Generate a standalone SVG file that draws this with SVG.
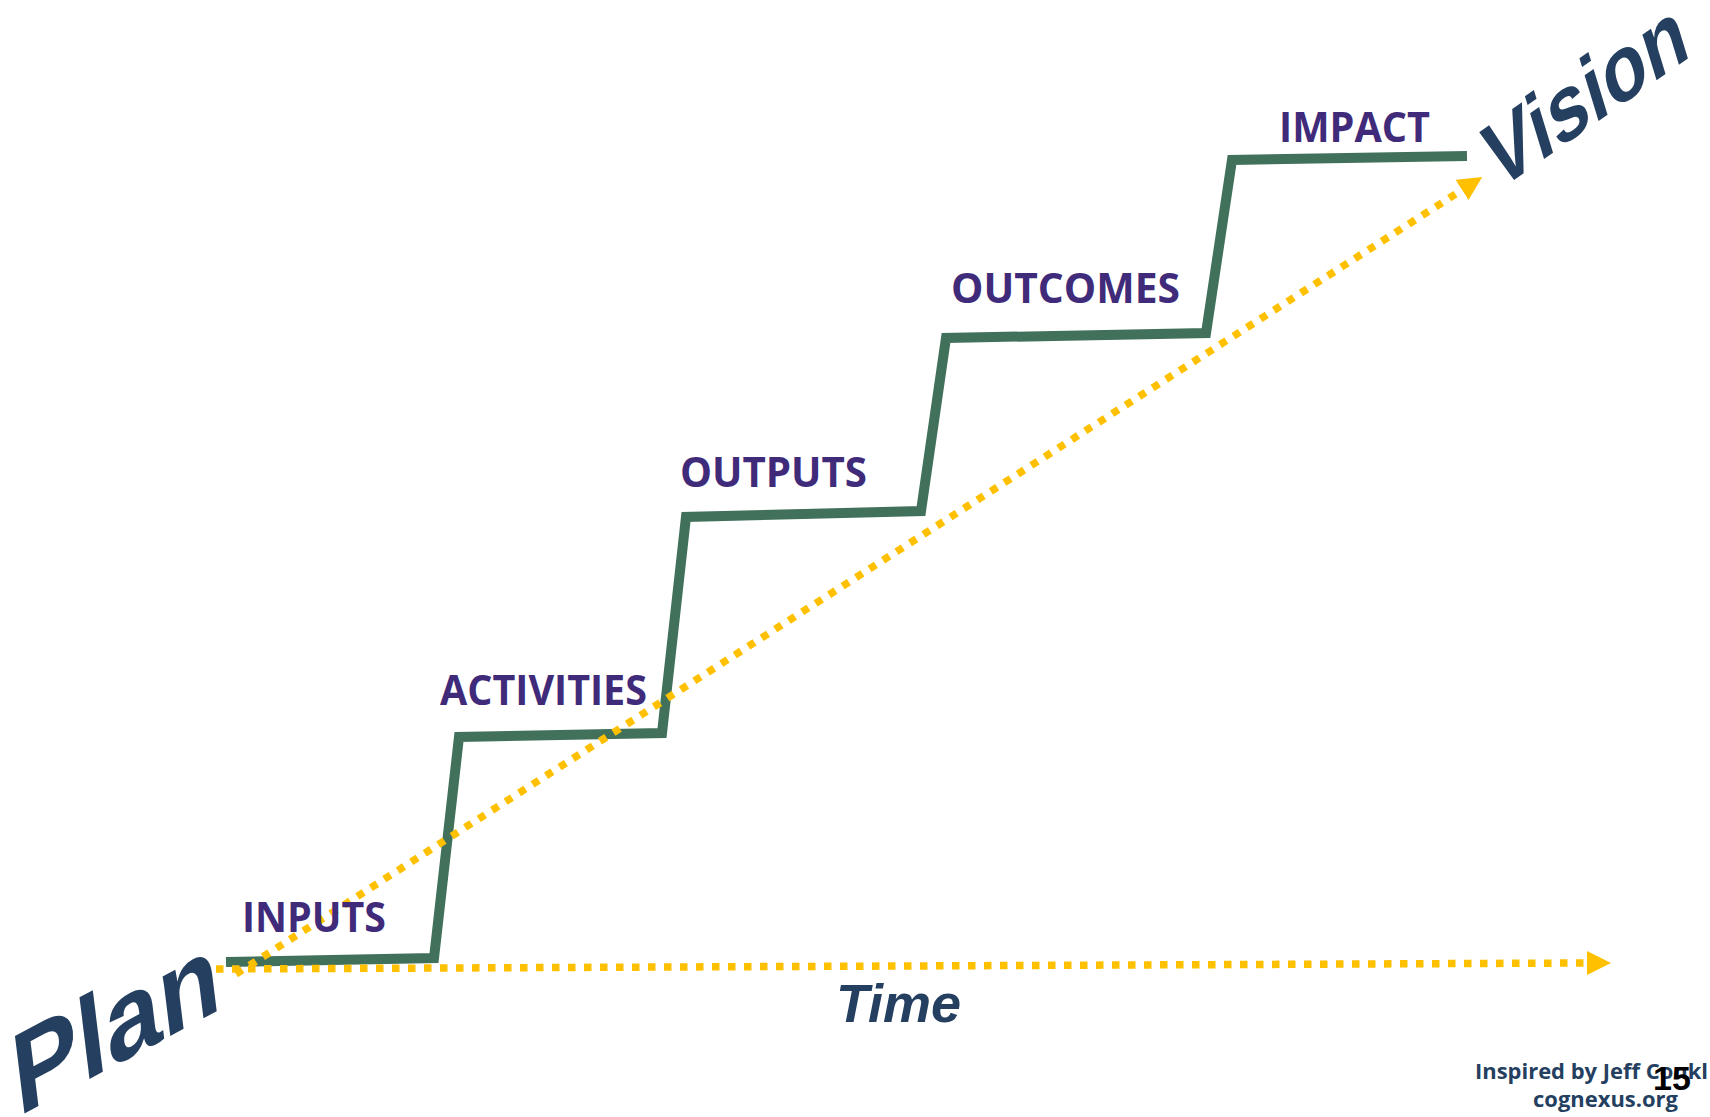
<svg xmlns="http://www.w3.org/2000/svg" width="1710" height="1117" viewBox="0 0 1710 1117">
  <defs>
    <style>
      .step { fill: none; stroke: #41715A; stroke-width: 10; stroke-linejoin: miter; stroke-linecap: butt; }
      .dots { fill: none; stroke: #FFC000; stroke-width: 7.5; stroke-dasharray: 7.5 8.5; stroke-linecap: butt; }
      .label { font-family: "Open Sans", Lato, "Liberation Sans", sans-serif; font-weight: bold; font-size: 41px; fill: #3F2B7A; }
      .big { font-family: "Liberation Sans", Arial, sans-serif; font-weight: bold; fill: #243F60; }
      .credit { font-family: "Open Sans", Lato, "Liberation Sans", sans-serif; font-weight: bold; font-size: 21px; fill: #243F60; }
    </style>
    <marker id="arrow" viewBox="0 0 24 24" refX="0" refY="12" markerWidth="24" markerHeight="24" markerUnits="userSpaceOnUse" orient="auto">
      <path d="M0,0 L24,12 L0,24 Z" fill="#FFC000"/>
    </marker>
  </defs>
  <rect width="1710" height="1117" fill="#FFFFFF"/>

  <!-- staircase -->
  <g id="staircase">
    <polyline class="step" points="226,962 434,958 459,737 662,733 686,517 921,511 946,338 1206,333 1232,160 1467,156"/>
  </g>

  <!-- dotted arrows: time axis and plan-to-vision diagonal -->
  <g id="connectors">
    <line class="dots" x1="216" y1="969" x2="1587" y2="963" marker-end="url(#arrow)"/>
    <line class="dots" x1="236" y1="974" x2="1462" y2="190" marker-end="url(#arrow)"/>
  </g>

  <!-- stage labels -->
  <g id="inputs"><text class="label" x="242" y="932" textLength="144" lengthAdjust="spacingAndGlyphs">INPUTS</text></g>
  <g id="activities"><text class="label" x="440" y="705" textLength="207" lengthAdjust="spacingAndGlyphs">ACTIVITIES</text></g>
  <g id="outputs"><text class="label" x="680" y="487" textLength="187" lengthAdjust="spacingAndGlyphs">OUTPUTS</text></g>
  <g id="outcomes"><text class="label" x="951" y="303" textLength="229" lengthAdjust="spacingAndGlyphs">OUTCOMES</text></g>
  <g id="impact"><text class="label" x="1279" y="142" textLength="151" lengthAdjust="spacingAndGlyphs">IMPACT</text></g>

  <!-- endpoints and axis title -->
  <g id="plan">
    <text class="big" font-size="106" textLength="232" lengthAdjust="spacingAndGlyphs" transform="translate(18,1117) rotate(-28) skewX(-21)">Plan</text>
  </g>
  <g id="vision">
    <text class="big" font-size="86" textLength="238" lengthAdjust="spacingAndGlyphs" transform="translate(1497,192) rotate(-35) skewX(-18)">Vision</text>
  </g>
  <g id="time">
    <text class="big" font-size="54" font-style="italic" x="836" y="1022">Time</text>
  </g>

  <!-- footer -->
  <g id="credit">
    <text class="credit" x="1475" y="1079" textLength="233" lengthAdjust="spacingAndGlyphs">Inspired by Jeff Conkl</text>
    <text class="credit" x="1533" y="1107" textLength="145" lengthAdjust="spacingAndGlyphs">cognexus.org</text>
  </g>
  <g id="page-number">
    <text font-family="'Liberation Sans', Arial, sans-serif" font-weight="bold" font-size="34" fill="#000000" x="1653" y="1090">15</text>
  </g>
</svg>
